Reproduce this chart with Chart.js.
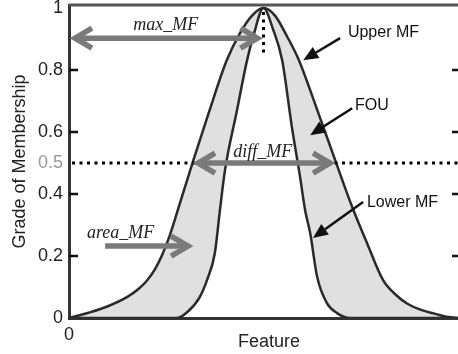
<!DOCTYPE html>
<html lang="en">
<head>
  <meta charset="UTF-8" />
  <title>Interval type-2 membership function</title>
  <script src="https://cdn.jsdelivr.net/npm/chart.js"></script>
  <style>
    html, body { margin: 0; padding: 0; background: #fff; }
    canvas { display: block; }
  </style>
</head>
<body>
  <canvas id="mfChart" width="458" height="354"></canvas>

  <script>
    // Upper MF (feature axis scaled 0-100)
    const upperX = [0, 5, 10, 15, 18, 20, 22, 24, 26, 28.5, 32, 36, 40.5, 44, 47, 50, 53, 56, 59, 63, 68.4, 72.8, 76.6, 80.7, 84, 87, 90.5, 94, 97.5, 100];
    const upperY = [0, 0.017, 0.038, 0.068, 0.095, 0.12, 0.155, 0.205, 0.27, 0.37, 0.51, 0.665, 0.83, 0.92, 0.975, 1, 0.975, 0.91, 0.835, 0.70, 0.51, 0.358, 0.242, 0.123, 0.075, 0.046, 0.026, 0.014, 0.003, 0];

    // Lower MF
    const lowerX = [0, 27.8, 30.5, 33.5, 35.5, 37.5, 38.8, 40.1, 43.2, 45.5, 47.5, 50, 52.5, 54.8, 57.3, 59.4, 60.7, 62, 63.8, 66.3, 69, 72.2, 100];
    const lowerY = [0, 0, 0.02, 0.065, 0.123, 0.21, 0.348, 0.477, 0.671, 0.816, 0.915, 1, 0.93, 0.832, 0.616, 0.455, 0.348, 0.274, 0.132, 0.048, 0.015, 0, 0];

    // axis ticks
    const yTicks = [0, 0.2, 0.4, 0.5, 0.6, 0.8, 1];
    const xTicks = [0];

    // annotation anchors (data units)
    const maxMF = { x1: 0, x2: 50, y: 0.903 };
    const diffMF = { x1: 31.9, x2: 68.4, y: 0.5 };
    const areaMF = { x1: 9.3, x2: 31.9, y: 0.232 };
    const callouts = [
      { text: 'Upper MF', tx: 71.7, ty: 0.906, from: [69.7, 0.903], to: [60.2, 0.832] },
      { text: 'FOU',      tx: 73.5, ty: 0.671, from: [72.8, 0.677], to: [62.0, 0.59] },
      { text: 'Lower MF', tx: 76.6, ty: 0.358, from: [75.6, 0.374], to: [62.7, 0.258] }
    ];

    const toPoints = (xs, ys) => xs.map((v, i) => ({ x: v, y: ys[i] }));

    Chart.defaults.font.family = '"Liberation Sans", Arial, sans-serif';
    Chart.defaults.color = '#222';

    const overlay = {
      id: 'overlay',
      afterDatasetsDraw(chart) {
        const { ctx, chartArea: a, scales: { x, y } } = chart;
        const px = v => x.getPixelForValue(v);
        const py = v => y.getPixelForValue(v);
        ctx.save();

        // top frame
        ctx.strokeStyle = '#555';
        ctx.lineWidth = 3;
        ctx.beginPath();
        ctx.moveTo(a.left, a.top);
        ctx.lineTo(a.right, a.top);
        ctx.stroke();

        // inward tick marks
        ctx.strokeStyle = '#111';
        ctx.lineWidth = 2.5;
        [0.2, 0.4, 0.6, 0.8].forEach(v => {
          ctx.beginPath();
          ctx.moveTo(a.left, py(v)); ctx.lineTo(a.left + 9, py(v));
          ctx.moveTo(a.right - 6, py(v)); ctx.lineTo(a.right, py(v));
          ctx.stroke();
        });

        // dotted guides
        ctx.strokeStyle = '#000';
        ctx.lineWidth = 3;
        ctx.setLineDash([3, 4.5]);
        ctx.beginPath();
        ctx.moveTo(a.left + 3, py(0.5)); ctx.lineTo(a.right, py(0.5));
        ctx.moveTo(px(50), py(1) + 4); ctx.lineTo(px(50), py(0.855));
        ctx.stroke();
        ctx.setLineDash([]);

        // grey double/single arrows
        function grey(x1, x2, yy, left, right) {
          ctx.strokeStyle = '#7a7a7a';
          ctx.lineWidth = 5.5;
          ctx.lineCap = 'butt';
          ctx.lineJoin = 'miter';
          const l = left ? x1 + 5 : x1, r = right ? x2 - 5 : x2;
          ctx.beginPath();
          ctx.moveTo(l, yy); ctx.lineTo(r, yy);
          ctx.stroke();
          if (left) {
            ctx.beginPath();
            ctx.moveTo(l + 17, yy - 10); ctx.lineTo(l, yy); ctx.lineTo(l + 17, yy + 10);
            ctx.stroke();
          }
          if (right) {
            ctx.beginPath();
            ctx.moveTo(r - 17, yy - 10); ctx.lineTo(r, yy); ctx.lineTo(r - 17, yy + 10);
            ctx.stroke();
          }
        }
        grey(px(maxMF.x1) + 1, px(maxMF.x2) - 1, py(maxMF.y), true, true);
        grey(px(diffMF.x1), px(diffMF.x2), py(diffMF.y), true, true);
        grey(px(areaMF.x1), px(areaMF.x2), py(areaMF.y), false, true);

        // italic labels
        ctx.fillStyle = '#222';
        ctx.font = 'italic 18px "Liberation Serif", "Times New Roman", serif';
        ctx.textBaseline = 'alphabetic';
        ctx.textAlign = 'left';
        ctx.fillText('max_MF', px(16.5), py(0.929));
        ctx.fillText('diff_MF', px(42.2), py(0.519));
        ctx.fillText('area_MF', px(4.6), py(0.258));

        // black callouts
        ctx.font = '16px "Liberation Sans", Arial, sans-serif';
        callouts.forEach(c => {
          ctx.fillStyle = '#111';
          ctx.fillText(c.text, px(c.tx), py(c.ty));
          const x1 = px(c.from[0]), y1 = py(c.from[1]);
          const x2 = px(c.to[0]), y2 = py(c.to[1]);
          const ang = Math.atan2(y2 - y1, x2 - x1);
          const hl = 15, hw = 6.5;
          const bx = x2 - hl * Math.cos(ang), by = y2 - hl * Math.sin(ang);
          ctx.strokeStyle = '#111';
          ctx.lineWidth = 2.5;
          ctx.beginPath();
          ctx.moveTo(x1, y1); ctx.lineTo(bx, by);
          ctx.stroke();
          ctx.beginPath();
          ctx.moveTo(x2, y2);
          ctx.lineTo(bx + hw * Math.sin(ang), by - hw * Math.cos(ang));
          ctx.lineTo(bx - hw * Math.sin(ang), by + hw * Math.cos(ang));
          ctx.closePath();
          ctx.fill();
        });

        // x axis title
        ctx.font = '18px "Liberation Sans", Arial, sans-serif';
        ctx.fillStyle = '#222';
        ctx.textAlign = 'center';
        ctx.fillText('Feature', 269, 347);

        ctx.restore();
      }
    };

    new Chart(document.getElementById('mfChart'), {
      type: 'line',
      data: {
        datasets: [
          {
            label: 'Upper MF',
            data: toPoints(upperX, upperY),
            borderColor: '#2a2a2a',
            borderWidth: 2.5,
            backgroundColor: '#e0e0e0',
            fill: '+1',
            pointRadius: 0,
            cubicInterpolationMode: 'monotone'
          },
          {
            label: 'Lower MF',
            data: toPoints(lowerX, lowerY),
            borderColor: '#2a2a2a',
            borderWidth: 2.5,
            fill: false,
            pointRadius: 0,
            cubicInterpolationMode: 'monotone'
          }
        ]
      },
      options: {
        responsive: false,
        animation: false,
        layout: { padding: { top: 5, right: 0, bottom: 0, left: 0 } },
        plugins: {
          legend: { display: false },
          tooltip: { enabled: false },
          filler: { drawTime: 'beforeDatasetsDraw' }
        },
        scales: {
          x: {
            type: 'linear',
            min: 0,
            max: 100,
            grid: { display: false, drawTicks: false },
            border: { display: true, color: '#333', width: 3 },
            afterBuildTicks: s => { s.ticks = xTicks.map(v => ({ value: v })); },
            afterFit: s => {
              s.height = 36;
              s.paddingLeft = s.paddingRight = 0;
            },
            ticks: {
              padding: 6,
              font: { size: 18 },
              color: '#222',
              callback: v => String(v)
            }
          },
          y: {
            min: 0,
            max: 1.01,
            grid: { display: false, drawTicks: false },
            border: { display: true, color: '#333', width: 3 },
            afterBuildTicks: s => { s.ticks = yTicks.map(v => ({ value: v })); },
            afterFit: s => {
              s.width = 69;
              s.paddingTop = s.paddingBottom = 0;
            },
            ticks: {
              padding: 6,
              font: { size: 18 },
              color: c => (c.tick && c.tick.value === 0.5 ? '#9a9a9a' : '#222'),
              callback: v => (v === 0 || v === 1 ? String(v) : v.toFixed(1))
            },
            title: {
              display: true,
              text: 'Grade of Membership',
              font: { size: 18 },
              color: '#222',
              padding: { top: 9, bottom: 0 }
            }
          }
        }
      },
      plugins: [overlay]
    });
  </script>
</body>
</html>
